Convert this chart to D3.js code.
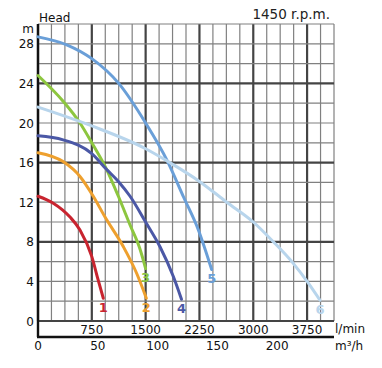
<!DOCTYPE html>
<html>
<head>
<meta charset="utf-8">
<script src="https://cdn.jsdelivr.net/npm/d3@7"></script>
<style>
  body { margin: 0; background: #fff; }
  text { font-family: "DejaVu Sans", sans-serif; }
</style>
</head>
<body>
<div id="viz"></div>
<script>
// pump curves, flow in l/min, head in m
const curve1 = [[0, 12.6], [213, 11.9], [446, 10.5], [585, 9.2], [750, 6.5], [840, 4.1], [910, 2.3]];
const curve2 = [[0, 17.0], [350, 16.1], [585, 14.6], [770, 12.6], [934, 10.5], [1190, 7.5], [1376, 4.8], [1510, 2.3]];
const curve3 = [[0, 24.8], [350, 22.2], [585, 20.0], [750, 18.0], [957, 15.3], [1120, 12.6], [1283, 9.7], [1420, 7.3], [1500, 5.3]];
const curve4 = [[0, 18.7], [350, 18.3], [750, 16.9], [957, 15.3], [1120, 14.1], [1283, 12.6], [1500, 10.0], [1700, 7.5], [1886, 4.5], [2000, 2.2]];
const curve5 = [[0, 28.7], [400, 27.9], [750, 26.5], [1125, 24.0], [1500, 20.0], [1800, 16.2], [2030, 12.5], [2235, 9.2], [2420, 5.2]];
const curve6 = [[0, 21.6], [750, 19.7], [1500, 17.4], [1815, 16.1], [2250, 14.1], [2630, 12.0], [3000, 10.0], [3280, 8.0], [3560, 5.8], [3770, 3.8], [3930, 2.1]];

const curveNames = ["1", "2", "3", "4", "5", "6"];
const curveColors = ["#c8242f", "#eea02e", "#8dc63f", "#4b58a6", "#6a9fd8", "#b8d5ec"];

const lminTicks = [750, 1500, 2250, 3000, 3750];
const m3hTicks = [0, 50, 100, 150, 200];
const headTicks = [0, 4, 8, 12, 16, 20, 24, 28];

const width = 382, height = 368;
const margin = {left: 38, top: 24, right: 48, bottom: 47};

const svg = d3.select("#viz").append("svg")
    .attr("width", width)
    .attr("height", height);

const x = d3.scaleLinear().domain([0, 4125]).range([margin.left, width - margin.right]);
const xm3 = d3.scaleLinear().domain([0, 4125 * 60 / 1000]).range([margin.left, width - margin.right]);
const y = d3.scaleLinear().domain([0, 30]).range([height - margin.bottom, margin.top]);

// grid
const minorX = d3.range(0, 4125.1, 187.5);
const minorY = d3.range(0, 30.1, 2);

svg.append("g").selectAll("line")
    .data(minorX)
    .enter().append("line")
        .attr("x1", d => x(d)).attr("x2", d => x(d))
        .attr("y1", y(0)).attr("y2", y(30))
        .attr("stroke", d => d % 750 === 0 ? "#444" : "#808080")
        .attr("stroke-width", d => d % 750 === 0 ? 2.2 : 1.2);

svg.append("g").selectAll("line")
    .data(minorY)
    .enter().append("line")
        .attr("x1", x(0)).attr("x2", x(4125))
        .attr("y1", d => y(d)).attr("y2", d => y(d))
        .attr("stroke", d => d % 8 === 0 ? "#444" : "#808080")
        .attr("stroke-width", d => d % 8 === 0 ? 2.2 : 1.2);

// left axis line and bottom m3/h line
const bottomY = height - margin.bottom + 16;
svg.append("line")
    .attr("x1", x(0)).attr("x2", x(0))
    .attr("y1", y(30)).attr("y2", bottomY)
    .attr("stroke", "#111").attr("stroke-width", 2.4);
svg.append("line")
    .attr("x1", x(0) - 1).attr("x2", x(4125))
    .attr("y1", bottomY).attr("y2", bottomY)
    .attr("stroke", "#111").attr("stroke-width", 2.4);

// y tick labels
svg.append("g").selectAll("text")
    .data(headTicks)
    .enter().append("text")
        .attr("x", x(0) - 4)
        .attr("y", d => y(d) + 4.5)
        .attr("text-anchor", "end")
        .attr("font-size", 12)
        .attr("fill", "#111")
        .text(d => d);

svg.append("text").attr("x", x(0) - 4).attr("y", 33)
    .attr("text-anchor", "end").attr("font-size", 12).attr("fill", "#111").text("m");
svg.append("text").attr("x", x(0) + 1).attr("y", 22)
    .attr("font-size", 12).attr("fill", "#111").text("Head");

// x tick labels
svg.append("g").selectAll("text")
    .data(lminTicks)
    .enter().append("text")
        .attr("x", d => x(d))
        .attr("y", y(0) + 12.5)
        .attr("text-anchor", "middle")
        .attr("font-size", 12)
        .attr("fill", "#111")
        .text(d => d);

svg.append("g").selectAll("text")
    .data(m3hTicks)
    .enter().append("text")
        .attr("x", d => xm3(d))
        .attr("y", bottomY + 13)
        .attr("text-anchor", "middle")
        .attr("font-size", 12)
        .attr("fill", "#111")
        .text(d => d);

svg.append("text").attr("x", x(4125) + 1).attr("y", y(0) + 12)
    .attr("font-size", 12).attr("fill", "#111").text("l/min");
svg.append("text").attr("x", x(4125) + 1).attr("y", bottomY + 13)
    .attr("font-size", 12).attr("fill", "#111").text("m³/h");

svg.append("text").attr("x", 330).attr("y", 19)
    .attr("text-anchor", "end")
    .attr("font-family", "Liberation Sans, Arial, sans-serif")
    .attr("font-size", 13.5).attr("fill", "#222")
    .text("1450 r.p.m.");

// curves
const curves = [curve1, curve2, curve3, curve4, curve5, curve6];
const line = d3.line()
    .x(d => x(d[0]))
    .y(d => y(d[1]))
    .curve(d3.curveMonotoneX);

svg.append("g").selectAll("path")
    .data(curves)
    .enter().append("path")
        .attr("d", line)
        .attr("fill", "none")
        .attr("stroke", (d, i) => curveColors[i])
        .attr("stroke-width", 3)
        .attr("stroke-linecap", "round");

svg.append("g").selectAll("text")
    .data(curves)
    .enter().append("text")
        .attr("x", d => x(d[d.length - 1][0]))
        .attr("y", d => y(d[d.length - 1][1]) + 13.5)
        .attr("text-anchor", "middle")
        .attr("font-size", 13)
        .attr("font-weight", "bold")
        .attr("fill", (d, i) => curveColors[i])
        .text((d, i) => curveNames[i]);
</script>
</body>
</html>
